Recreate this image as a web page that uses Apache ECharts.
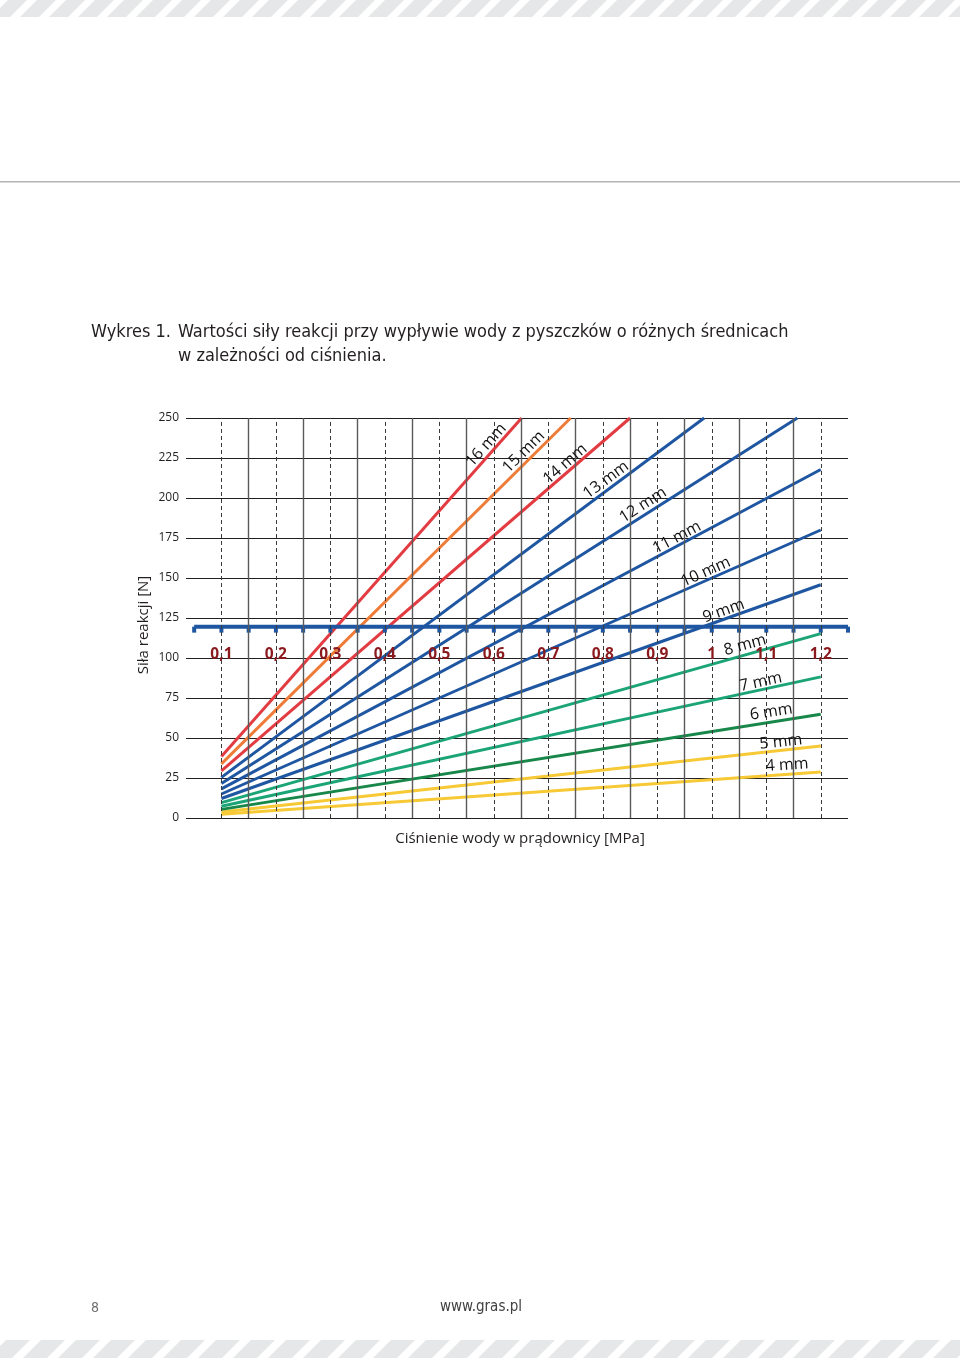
<!DOCTYPE html>
<html>
<head>
<meta charset="utf-8">
<script src="https://cdn.jsdelivr.net/npm/echarts@6/dist/echarts.min.js"></script>
<style>
  html, body { margin: 0; padding: 0; background: #fff; }
  #chart { width: 960px; height: 1358px; }
</style>
</head>
<body>
<div id="chart"></div>
<script>
// ---- data ----
const diameters = ['4 mm','5 mm','6 mm','7 mm','8 mm','9 mm','10 mm','11 mm','12 mm','13 mm','14 mm','15 mm','16 mm'];
const startPressure = [0.1,0.1,0.1,0.1,0.1,0.1,0.1,0.1,0.1,0.1,0.1,0.1,0.1];
const startForce = [2.4,3.8,5.4,7.4,9.6,12.2,15,18.2,21.6,25.4,29.4,33.8,38.4];
const endPressure = [1.2,1.2,1.2,1.2,1.2,1.2,1.2,1.2,1.157,0.986,0.850,0.741,0.651];
const endForce = [28.8,45,64.8,88.2,115.2,145.8,180,217.8,250,250,250,250,250];
const labelPressure = [1.138,1.127,1.109,1.090,1.061,1.022,0.989,0.936,0.874,0.806,0.731,0.655,0.586];
const labelForce = [33.1,47.5,66.3,85,108.1,129.4,153.8,175.3,195.6,211.3,221.3,228.8,233.1];
const pressureValues = [0.1,0.2,0.3,0.4,0.5,0.6,0.7,0.8,0.9,1.0,1.1,1.2];
const pressureLabels = ['0,1','0,2','0,3','0,4','0,5','0,6','0,7','0,8','0,9','1','1,1','1,2'];
const midPressures = [0.15,0.25,0.35,0.45,0.55,0.65,0.75,0.85,0.95,1.05,1.15];
const scaleTicks = [0.05,0.1,0.15,0.2,0.25,0.3,0.35,0.4,0.45,0.5,0.55,0.6,0.65,0.7,0.75,0.8,0.85,0.9,0.95,1.0,1.05,1.1,1.15,1.2,1.25];
const scaleForce = 119.6;
const pressureLabelForce = 101.9;

// ---- styles ----
const lineColors = ['#f6c935','#f6c935','#17874a','#1ba577','#1ba577','#1f56a1','#1f56a1','#1f56a1','#1f56a1','#1f56a1','#e23b41','#ee7b38','#e23b41'];
const labelAngles = [4,6,9,12,15.5,19.5,24,28,32.5,36.5,41,45,48];
const FONT = "'Open Sans', sans-serif";
const NARROW = "'Liberation Sans Narrow', 'DejaVu Sans Condensed', sans-serif";

const chart = echarts.init(document.getElementById('chart'), null, { renderer: 'canvas' });

function stripes(y0, h, period, w, slant, start) {
  const arr = [];
  for (let x = start; x < 1000; x += period) {
    arr.push({ type: 'polygon', silent: true, z: 0,
      shape: { points: [[x, y0 + h], [x + w, y0 + h], [x + w + slant, y0], [x + slant, y0]] },
      style: { fill: '#e6e7e8' } });
  }
  return arr;
}

const series = [];
// vertical grid lines
series.push({
  type: 'line', data: [], silent: true, z: 1,
  markLine: {
    silent: true, symbol: 'none', label: { show: false }, animation: false,
    data: pressureValues.map(p => ({ xAxis: p, lineStyle: { type: [4, 3], color: '#3a3a3a', width: 1 } }))
      .concat(midPressures.map(p => ({ xAxis: p, lineStyle: { type: 'solid', color: '#5a5a5a', width: 1.4 } })))
  }
});
// diameter lines
diameters.forEach((d, i) => {
  series.push({
    type: 'line', name: d, z: 3, symbol: 'none', silent: true,
    data: [[startPressure[i], startForce[i]], [endPressure[i], endForce[i]]],
    lineStyle: { color: lineColors[i], width: 3, cap: 'butt' }
  });
});
// blue pressure scale
series.push({
  type: 'line', z: 4, silent: true,
  data: scaleTicks.map(p => [p, scaleForce]),
  symbol: 'rect', symbolSize: [4, 6], symbolOffset: [0, 3], showSymbol: true,
  itemStyle: { color: '#1f56a1' },
  lineStyle: { color: '#1f56a1', width: 4 }
});
// pressure labels
series.push({
  type: 'scatter', z: 6, silent: true, symbolSize: 0,
  itemStyle: { opacity: 1 },
  data: pressureValues.map(p => [p, pressureLabelForce]),
  label: { show: true, position: 'inside', formatter: p => pressureLabels[p.dataIndex], opacity: 1,
    color: '#8a1a1e', fontWeight: 'bold', fontSize: 15.5, fontFamily: FONT }
});
// diameter labels
series.push({
  type: 'scatter', z: 6, silent: true, symbolSize: 0,
  itemStyle: { opacity: 1 },
  data: diameters.map((d, i) => ({ value: [labelPressure[i], labelForce[i]], label: { rotate: labelAngles[i] } })),
  label: { show: true, position: 'inside', formatter: p => diameters[p.dataIndex], opacity: 1,
    color: '#111111', fontSize: 16, fontFamily: FONT }
});

const graphic = [].concat(
  stripes(0, 17, 29, 19, 17, -9),
  stripes(1340, 18, 35, 24, 18, -12),
  [
    { type: 'rect', silent: true, shape: { x: 0, y: 181, width: 960, height: 1.5 }, style: { fill: '#b4b4b4' } },
    { type: 'text', silent: true, x: 91, y: 332, style: { text: 'Wykres 1.', fontSize: 18, fontFamily: NARROW, fill: '#231f20', verticalAlign: 'middle' } },
    { type: 'text', silent: true, x: 178, y: 332, style: { text: 'Wartości siły reakcji przy wypływie wody z pyszczków o różnych średnicach', fontSize: 18, fontFamily: NARROW, fill: '#231f20', verticalAlign: 'middle' } },
    { type: 'text', silent: true, x: 178, y: 356, style: { text: 'w zależności od ciśnienia.', fontSize: 18, fontFamily: NARROW, fill: '#231f20', verticalAlign: 'middle' } },
    { type: 'text', silent: true, x: 144, y: 625, rotation: Math.PI / 2, style: { text: 'Siła reakcji [N]', fontSize: 15, fontFamily: FONT, fill: '#231f20', align: 'center', verticalAlign: 'middle' } },
    { type: 'text', silent: true, x: 520, y: 839, style: { text: 'Ciśnienie wody w prądownicy [MPa]', fontSize: 15, fontFamily: FONT, fill: '#231f20', align: 'center', verticalAlign: 'middle' } },
    { type: 'text', silent: true, x: 95, y: 1308, style: { text: '8', fontSize: 14, fontFamily: NARROW, fill: '#6d6e71', align: 'center', verticalAlign: 'middle' } },
    { type: 'text', silent: true, x: 481, y: 1307, style: { text: 'www.gras.pl', fontSize: 15, fontFamily: NARROW, fill: '#414042', align: 'center', verticalAlign: 'middle' } }
  ]
);

chart.setOption({
  animation: false,
  backgroundColor: '#ffffff',
  grid: { left: 186, top: 418, width: 662, height: 400, containLabel: false },
  xAxis: { type: 'value', min: 0.035, max: 1.25, axisLine: { show: false }, axisTick: { show: false },
    axisLabel: { show: false }, splitLine: { show: false } },
  yAxis: { type: 'value', min: 0, max: 250, interval: 25,
    axisLine: { show: false }, axisTick: { show: false },
    axisLabel: { color: '#231f20', fontSize: 12, fontFamily: FONT, margin: 7 },
    splitLine: { show: true, lineStyle: { color: '#231f20', width: 1 } } },
  series: series,
  graphic: graphic
});
</script>
</body>
</html>
